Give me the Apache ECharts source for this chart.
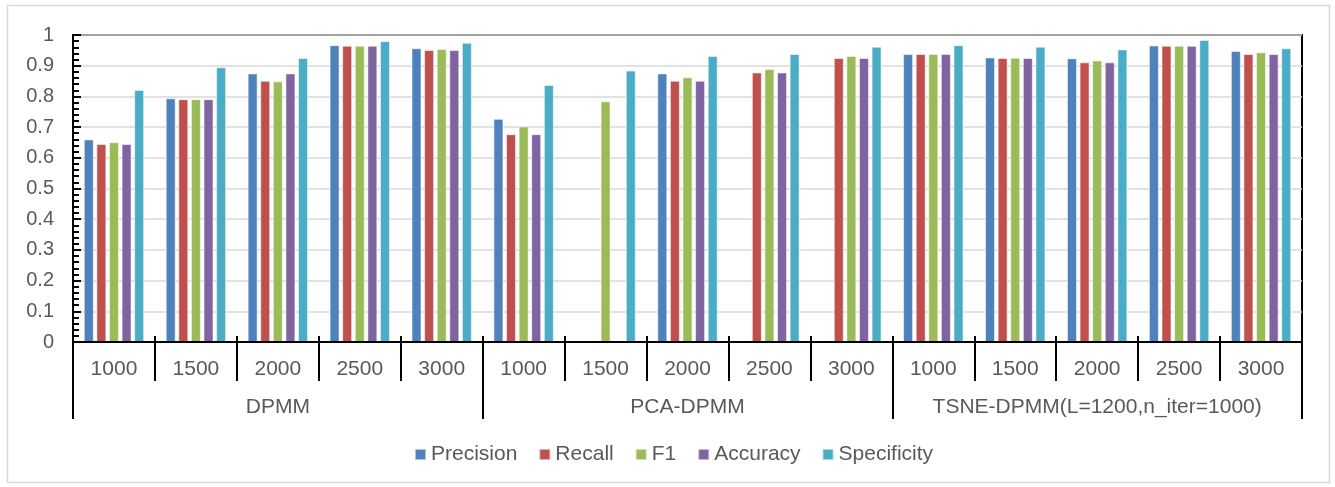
<!DOCTYPE html>
<html>
<head>
<meta charset="utf-8">
<title>DPMM variants – clustering metrics</title>
<script src="https://cdn.jsdelivr.net/npm/echarts@6/dist/echarts.min.js"></script>
<style>
  html, body { margin: 0; padding: 0; background: #fff; }
  #chart { width: 1335px; height: 487px; }
</style>
</head>
<body>
<div id="chart"></div>
<script>
// Sample sizes within each method group, and the method groups
const sampleSizes = ['1000', '1500', '2000', '2500', '3000'];
const methodGroups = ['DPMM', 'PCA-DPMM', 'TSNE-DPMM(L=1200,n_iter=1000)'];

// Metric values, one per (method, sample size) in group order
const precision   = [0.660, 0.794, 0.875, 0.967, 0.957, 0.727, 0,     0.875, 0,     0,     0.938, 0.927, 0.924, 0.966, 0.948];
const recall      = [0.645, 0.791, 0.851, 0.965, 0.951, 0.677, 0,     0.851, 0.878, 0.925, 0.938, 0.925, 0.911, 0.965, 0.938];
const f1          = [0.651, 0.791, 0.849, 0.965, 0.954, 0.702, 0.784, 0.862, 0.889, 0.932, 0.938, 0.926, 0.917, 0.965, 0.944];
const accuracy    = [0.645, 0.791, 0.875, 0.965, 0.951, 0.677, 0,     0.851, 0.878, 0.925, 0.938, 0.925, 0.911, 0.965, 0.938];
const specificity = [0.821, 0.895, 0.925, 0.980, 0.975, 0.837, 0.884, 0.932, 0.938, 0.962, 0.967, 0.962, 0.953, 0.984, 0.957];

const metricNames = ['Precision', 'Recall', 'F1', 'Accuracy', 'Specificity'];
const metricColors = ['#4F81BD', '#C0504D', '#9BBB59', '#8064A2', '#4BACC6'];
const metricValues = [precision, recall, f1, accuracy, specificity];

// Flattened category list: every sample size repeated for each method
const categories = [];
methodGroups.forEach(() => sampleSizes.forEach(s => categories.push(s)));
// Half-step slots used only to place the short upward ticks
const halfSlots = categories.flatMap(() => ['', '']);

const textColor = '#595959';
const fontFamily = 'Liberation Sans, Arial, sans-serif';

const chart = echarts.init(document.getElementById('chart'), null, { renderer: 'canvas' });

chart.setOption({
  animation: false,
  textStyle: { fontFamily: fontFamily },
  graphic: [{
    type: 'rect',
    shape: { x: 7.5, y: 5.5, width: 1322, height: 477 },
    style: { fill: 'none', stroke: '#D9D9D9', lineWidth: 1.5 },
    silent: true
  }],
  grid: {
    left: 73, right: 33, top: 35, bottom: 145,
    show: true, borderColor: '#000', borderWidth: 2, backgroundColor: 'transparent'
  },
  legend: {
    data: metricNames,
    left: 409, top: 439,
    itemWidth: 11, itemHeight: 11, itemGap: 21,
    icon: 'rect',
    textStyle: { color: textColor, fontSize: 21, fontFamily: fontFamily, padding: [0, 0, 0, 0] }
  },
  xAxis: [
    {
      type: 'category',
      data: categories,
      position: 'bottom',
      axisLine: { show: true, lineStyle: { color: '#000', width: 2 } },
      axisTick: { show: true, interval: 0, length: 39, lineStyle: { color: '#000', width: 2 } },
      axisLabel: { interval: 0, color: textColor, fontSize: 21, margin: 17 },
      splitLine: { show: false },
      z: 5
    },
    {
      type: 'category',
      data: methodGroups,
      position: 'bottom',
      axisLine: { show: false },
      axisTick: { show: true, interval: 0, length: 77, lineStyle: { color: '#000', width: 2 } },
      axisLabel: { interval: 0, color: textColor, fontSize: 21, margin: 55 },
      splitLine: { show: false }
    },
    {
      type: 'category',
      data: halfSlots,
      position: 'bottom',
      axisLine: { show: false },
      axisTick: { show: true, inside: true, interval: 0, length: 6, lineStyle: { color: '#000', width: 2 } },
      axisLabel: { show: false },
      splitLine: { show: false }
    }
  ],
  yAxis: {
    type: 'value',
    min: 0, max: 1, interval: 0.1,
    axisLine: { show: true, lineStyle: { color: '#000', width: 2 } },
    axisTick: { show: true, inside: true, length: 8, lineStyle: { color: '#000', width: 2 } },
    minorTick: { show: true, splitNumber: 5, length: 6, lineStyle: { color: '#000', width: 2 } },
    axisLabel: { color: textColor, fontSize: 20, margin: 19 },
    splitLine: { show: true, lineStyle: { color: '#D9D9D9', width: 1.5 } }
  },
  series: metricNames.map((name, i) => ({
    name: name,
    type: 'bar',
    xAxisIndex: 0,
    data: metricValues[i],
    barWidth: 10,
    barGap: '26%',
    itemStyle: {
      color: metricColors[i],
      borderColor: 'rgba(255,255,255,0.55)',
      borderWidth: 1
    }
  }))
});
</script>
</body>
</html>
